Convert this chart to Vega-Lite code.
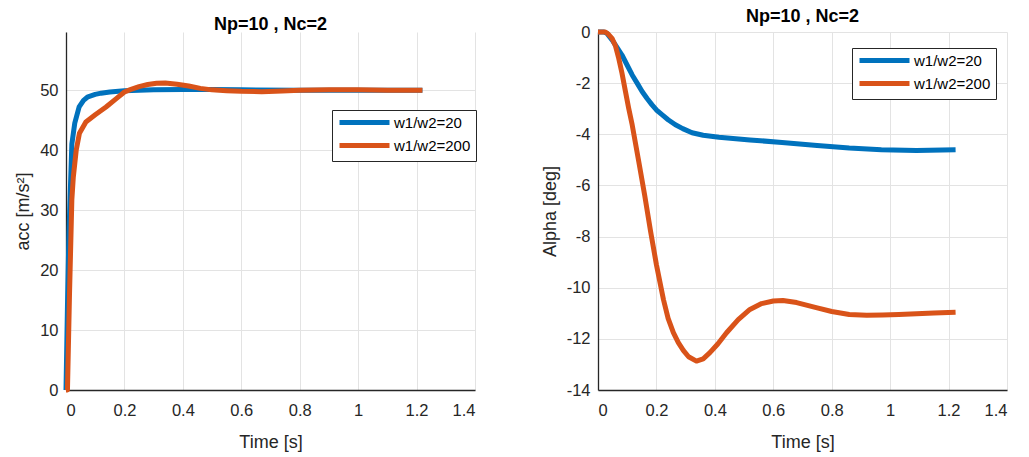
{
  "$schema": "https://vega.github.io/schema/vega-lite/v6.json",
  "padding": {"left": 14, "top": 8, "right": 5, "bottom": 5},
  "config": {
    "font": "Liberation Sans",
    "view": {"stroke": null},
    "concat": {"spacing": 64},
    "title": {"fontSize": 18, "fontWeight": "bold", "color": "#000000", "offset": -2, "anchor": "middle"},
    "axis": {
      "labelFontSize": 16.5, "labelColor": "#262626", "titleFontSize": 18, "titleColor": "#262626",
      "titleFontWeight": "normal", "gridColor": "#e3e3e3", "gridWidth": 1, "domainColor": "#262626",
      "domainWidth": 1.3, "ticks": false, "labelPadding": 8
    }
  },
  "resolve": {"scale": {"color": "independent"}, "legend": {"color": "independent"}},
  "hconcat": [
    {
      "width": 409, "height": 358,
      "title": {"text": "Np=10 , Nc=2"},
      "data": {"values": [
        {"t": 0, "v": 0, "s": "w1/w2=20"},
        {"t": 0.005, "v": 14, "s": "w1/w2=20"},
        {"t": 0.01, "v": 26, "s": "w1/w2=20"},
        {"t": 0.014, "v": 32, "s": "w1/w2=20"},
        {"t": 0.02, "v": 41, "s": "w1/w2=20"},
        {"t": 0.03, "v": 44.5, "s": "w1/w2=20"},
        {"t": 0.045, "v": 47.2, "s": "w1/w2=20"},
        {"t": 0.06, "v": 48.3, "s": "w1/w2=20"},
        {"t": 0.075, "v": 48.9, "s": "w1/w2=20"},
        {"t": 0.1, "v": 49.3, "s": "w1/w2=20"},
        {"t": 0.12, "v": 49.5, "s": "w1/w2=20"},
        {"t": 0.15, "v": 49.7, "s": "w1/w2=20"},
        {"t": 0.2, "v": 49.9, "s": "w1/w2=20"},
        {"t": 0.25, "v": 50, "s": "w1/w2=20"},
        {"t": 0.3, "v": 50.05, "s": "w1/w2=20"},
        {"t": 0.4, "v": 50.1, "s": "w1/w2=20"},
        {"t": 0.5, "v": 50.1, "s": "w1/w2=20"},
        {"t": 0.6, "v": 50.05, "s": "w1/w2=20"},
        {"t": 0.8, "v": 50, "s": "w1/w2=20"},
        {"t": 1.0, "v": 50, "s": "w1/w2=20"},
        {"t": 1.22, "v": 50, "s": "w1/w2=20"},
        {"t": 0, "v": 0, "s": "w1/w2=200"},
        {"t": 0.005, "v": 0, "s": "w1/w2=200"},
        {"t": 0.012, "v": 16, "s": "w1/w2=200"},
        {"t": 0.02, "v": 31.7, "s": "w1/w2=200"},
        {"t": 0.025, "v": 35.5, "s": "w1/w2=200"},
        {"t": 0.035, "v": 40, "s": "w1/w2=200"},
        {"t": 0.046, "v": 42.8, "s": "w1/w2=200"},
        {"t": 0.068, "v": 44.7, "s": "w1/w2=200"},
        {"t": 0.1, "v": 45.9, "s": "w1/w2=200"},
        {"t": 0.137, "v": 47.2, "s": "w1/w2=200"},
        {"t": 0.17, "v": 48.5, "s": "w1/w2=200"},
        {"t": 0.2, "v": 49.7, "s": "w1/w2=200"},
        {"t": 0.22, "v": 50.1, "s": "w1/w2=200"},
        {"t": 0.25, "v": 50.6, "s": "w1/w2=200"},
        {"t": 0.28, "v": 50.95, "s": "w1/w2=200"},
        {"t": 0.31, "v": 51.15, "s": "w1/w2=200"},
        {"t": 0.34, "v": 51.2, "s": "w1/w2=200"},
        {"t": 0.38, "v": 51.0, "s": "w1/w2=200"},
        {"t": 0.42, "v": 50.7, "s": "w1/w2=200"},
        {"t": 0.46, "v": 50.3, "s": "w1/w2=200"},
        {"t": 0.5, "v": 50.05, "s": "w1/w2=200"},
        {"t": 0.55, "v": 49.9, "s": "w1/w2=200"},
        {"t": 0.6, "v": 49.8, "s": "w1/w2=200"},
        {"t": 0.67, "v": 49.75, "s": "w1/w2=200"},
        {"t": 0.74, "v": 49.85, "s": "w1/w2=200"},
        {"t": 0.8, "v": 50, "s": "w1/w2=200"},
        {"t": 0.9, "v": 50.05, "s": "w1/w2=200"},
        {"t": 1.0, "v": 50.05, "s": "w1/w2=200"},
        {"t": 1.1, "v": 50, "s": "w1/w2=200"},
        {"t": 1.22, "v": 50, "s": "w1/w2=200"}
      ]},
      "mark": {"type": "line", "strokeWidth": 5, "strokeCap": "butt", "strokeJoin": "round"},
      "encoding": {
        "x": {"field": "t", "type": "quantitative", "scale": {"domain": [0, 1.4], "nice": false},
          "axis": {"values": [0, 0.2, 0.4, 0.6, 0.8, 1, 1.2, 1.4], "labelExpr": "toString(datum.value)", "title": "Time [s]", "titlePadding": 15, "labelPadding": 12}},
        "y": {"field": "v", "type": "quantitative", "scale": {"domain": [0, 59.7], "nice": false, "zero": false},
          "axis": {"values": [0, 10, 20, 30, 40, 50], "labelExpr": "toString(datum.value)", "title": "acc [m/s²]", "titlePadding": 7}},
        "color": {"field": "s", "type": "nominal",
          "scale": {"domain": ["w1/w2=20", "w1/w2=200"], "range": ["#0072BD", "#D95319"]},
          "legend": {"orient": "none", "legendX": 266, "legendY": 78, "title": null, "symbolType": "M-1,0H9", "symbolSize": 100,
            "symbolStrokeWidth": 5, "labelFontSize": 15, "labelColor": "#000000", "strokeColor": "#262626", "fillColor": "#ffffff",
            "padding": 5, "rowPadding": 2, "labelOffset": 42}}
      }
    },
    {
      "width": 409, "height": 358,
      "title": {"text": "Np=10 , Nc=2"},
      "data": {"values": [
        {"t": 0, "v": 0, "s": "w1/w2=20"},
        {"t": 0.02, "v": 0, "s": "w1/w2=20"},
        {"t": 0.03, "v": -0.05, "s": "w1/w2=20"},
        {"t": 0.048, "v": -0.31, "s": "w1/w2=20"},
        {"t": 0.065, "v": -0.6, "s": "w1/w2=20"},
        {"t": 0.082, "v": -0.9, "s": "w1/w2=20"},
        {"t": 0.1, "v": -1.3, "s": "w1/w2=20"},
        {"t": 0.117, "v": -1.68, "s": "w1/w2=20"},
        {"t": 0.135, "v": -2.02, "s": "w1/w2=20"},
        {"t": 0.151, "v": -2.33, "s": "w1/w2=20"},
        {"t": 0.168, "v": -2.6, "s": "w1/w2=20"},
        {"t": 0.185, "v": -2.85, "s": "w1/w2=20"},
        {"t": 0.2, "v": -3.05, "s": "w1/w2=20"},
        {"t": 0.22, "v": -3.24, "s": "w1/w2=20"},
        {"t": 0.24, "v": -3.43, "s": "w1/w2=20"},
        {"t": 0.265, "v": -3.63, "s": "w1/w2=20"},
        {"t": 0.29, "v": -3.78, "s": "w1/w2=20"},
        {"t": 0.322, "v": -3.94, "s": "w1/w2=20"},
        {"t": 0.36, "v": -4.04, "s": "w1/w2=20"},
        {"t": 0.414, "v": -4.12, "s": "w1/w2=20"},
        {"t": 0.52, "v": -4.22, "s": "w1/w2=20"},
        {"t": 0.63, "v": -4.32, "s": "w1/w2=20"},
        {"t": 0.75, "v": -4.44, "s": "w1/w2=20"},
        {"t": 0.86, "v": -4.54, "s": "w1/w2=20"},
        {"t": 0.97, "v": -4.6, "s": "w1/w2=20"},
        {"t": 1.09, "v": -4.63, "s": "w1/w2=20"},
        {"t": 1.224, "v": -4.6, "s": "w1/w2=20"},
        {"t": 0, "v": 0, "s": "w1/w2=200"},
        {"t": 0.025, "v": 0, "s": "w1/w2=200"},
        {"t": 0.035, "v": -0.08, "s": "w1/w2=200"},
        {"t": 0.048, "v": -0.25, "s": "w1/w2=200"},
        {"t": 0.06, "v": -0.55, "s": "w1/w2=200"},
        {"t": 0.071, "v": -1.03, "s": "w1/w2=200"},
        {"t": 0.082, "v": -1.6, "s": "w1/w2=200"},
        {"t": 0.094, "v": -2.33, "s": "w1/w2=200"},
        {"t": 0.105, "v": -2.98, "s": "w1/w2=200"},
        {"t": 0.117, "v": -3.63, "s": "w1/w2=200"},
        {"t": 0.14, "v": -5.1, "s": "w1/w2=200"},
        {"t": 0.16, "v": -6.4, "s": "w1/w2=200"},
        {"t": 0.18, "v": -7.8, "s": "w1/w2=200"},
        {"t": 0.2, "v": -9.1, "s": "w1/w2=200"},
        {"t": 0.224, "v": -10.46, "s": "w1/w2=200"},
        {"t": 0.24, "v": -11.2, "s": "w1/w2=200"},
        {"t": 0.258, "v": -11.76, "s": "w1/w2=200"},
        {"t": 0.275, "v": -12.15, "s": "w1/w2=200"},
        {"t": 0.292, "v": -12.45, "s": "w1/w2=200"},
        {"t": 0.31, "v": -12.7, "s": "w1/w2=200"},
        {"t": 0.337, "v": -12.87, "s": "w1/w2=200"},
        {"t": 0.36, "v": -12.78, "s": "w1/w2=200"},
        {"t": 0.383, "v": -12.54, "s": "w1/w2=200"},
        {"t": 0.41, "v": -12.2, "s": "w1/w2=200"},
        {"t": 0.44, "v": -11.76, "s": "w1/w2=200"},
        {"t": 0.48, "v": -11.25, "s": "w1/w2=200"},
        {"t": 0.52, "v": -10.85, "s": "w1/w2=200"},
        {"t": 0.56, "v": -10.62, "s": "w1/w2=200"},
        {"t": 0.6, "v": -10.52, "s": "w1/w2=200"},
        {"t": 0.633, "v": -10.5, "s": "w1/w2=200"},
        {"t": 0.68, "v": -10.58, "s": "w1/w2=200"},
        {"t": 0.747, "v": -10.78, "s": "w1/w2=200"},
        {"t": 0.8, "v": -10.93, "s": "w1/w2=200"},
        {"t": 0.86, "v": -11.05, "s": "w1/w2=200"},
        {"t": 0.92, "v": -11.08, "s": "w1/w2=200"},
        {"t": 0.974, "v": -11.07, "s": "w1/w2=200"},
        {"t": 1.03, "v": -11.05, "s": "w1/w2=200"},
        {"t": 1.09, "v": -11.02, "s": "w1/w2=200"},
        {"t": 1.15, "v": -10.99, "s": "w1/w2=200"},
        {"t": 1.224, "v": -10.96, "s": "w1/w2=200"}
      ]},
      "mark": {"type": "line", "strokeWidth": 5, "strokeCap": "butt", "strokeJoin": "round"},
      "encoding": {
        "x": {"field": "t", "type": "quantitative", "scale": {"domain": [0, 1.4], "nice": false},
          "axis": {"values": [0, 0.2, 0.4, 0.6, 0.8, 1, 1.2, 1.4], "labelExpr": "toString(datum.value)", "title": "Time [s]", "titlePadding": 15, "labelPadding": 12}},
        "y": {"field": "v", "type": "quantitative", "scale": {"domain": [-14, 0], "nice": false, "zero": false},
          "axis": {"values": [-14, -12, -10, -8, -6, -4, -2, 0], "labelExpr": "toString(datum.value)", "title": "Alpha [deg]", "titlePadding": 7}},
        "color": {"field": "s", "type": "nominal",
          "scale": {"domain": ["w1/w2=20", "w1/w2=200"], "range": ["#0072BD", "#D95319"]},
          "legend": {"orient": "none", "legendX": 254, "legendY": 16, "title": null, "symbolType": "M-1,0H9", "symbolSize": 100,
            "symbolStrokeWidth": 5, "labelFontSize": 15, "labelColor": "#000000", "strokeColor": "#262626", "fillColor": "#ffffff",
            "padding": 5, "rowPadding": 2, "labelOffset": 42}}
      }
    }
  ]
}
